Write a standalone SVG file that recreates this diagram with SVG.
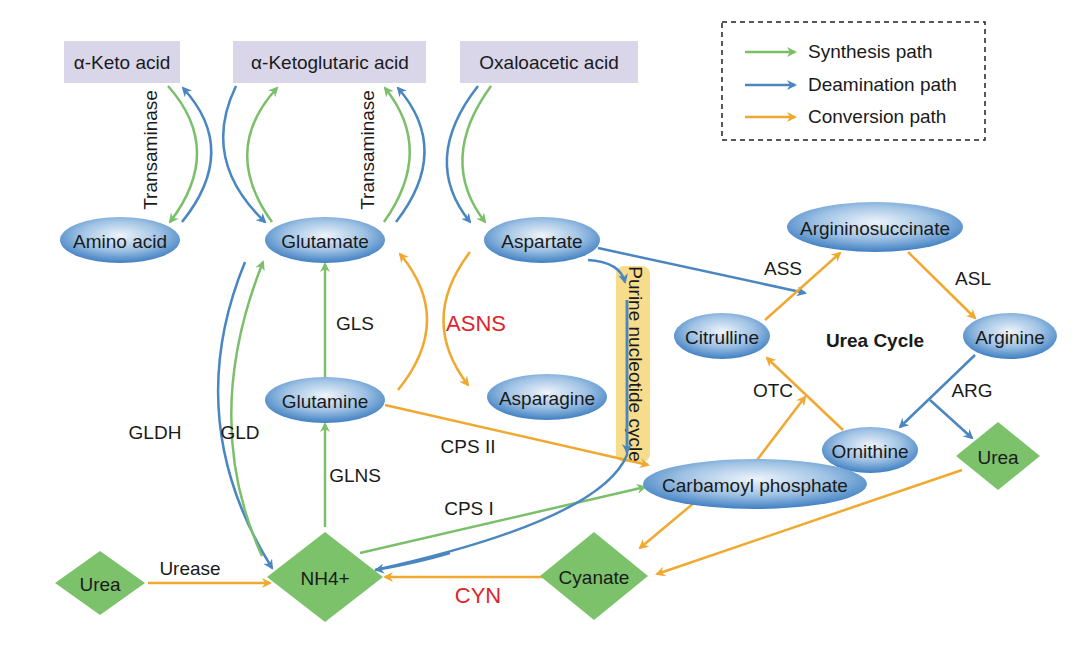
<svg xmlns="http://www.w3.org/2000/svg" width="1084" height="654" viewBox="0 0 1084 654">
<style>
text{font-family:"Liberation Sans",Arial,sans-serif;font-size:19px;fill:#1a1a1a}
.c{text-anchor:middle;dominant-baseline:central}
.g{stroke:#7bbf6a;stroke-width:2.5;fill:none;marker-end:url(#mg)}
.b{stroke:#4a86c0;stroke-width:2.5;fill:none;marker-end:url(#mb)}
.o{stroke:#f0a830;stroke-width:2.5;fill:none;marker-end:url(#mo)}
.bn{stroke:#4a86c0;stroke-width:2.5;fill:none}
.rect{fill:#d9d6ea}
.ell{fill:url(#rg)}
.dia{fill:#7cc26a}
.red{fill:#e0242a;font-size:22px}
</style>
<defs>
<radialGradient id="rg" cx="0.5" cy="0.4" r="0.6">
<stop offset="0" stop-color="#eef4fb"/><stop offset="0.55" stop-color="#9fc2e4"/><stop offset="1" stop-color="#3f7fc2"/>
</radialGradient>
<marker id="mg" markerWidth="10" markerHeight="10" refX="8" refY="5" orient="auto" markerUnits="userSpaceOnUse" viewBox="0 0 10 10"><path d="M0,0L10,5L0,10L3,5z" fill="#7bbf6a"/></marker>
<marker id="mb" markerWidth="10" markerHeight="10" refX="8" refY="5" orient="auto" markerUnits="userSpaceOnUse" viewBox="0 0 10 10"><path d="M0,0L10,5L0,10L3,5z" fill="#4a86c0"/></marker>
<marker id="mo" markerWidth="10" markerHeight="10" refX="8" refY="5" orient="auto" markerUnits="userSpaceOnUse" viewBox="0 0 10 10"><path d="M0,0L10,5L0,10L3,5z" fill="#f0a830"/></marker>
</defs>
<rect width="1084" height="654" fill="#fff"/>
<g id="legend">
<rect x="722" y="22" width="263" height="118" fill="none" stroke="#222" stroke-width="1.5" stroke-dasharray="5,4"/>
<line class="g" x1="745" y1="52" x2="795" y2="52"/><text x="808" y="58">Synthesis path</text>
<line class="b" x1="745" y1="85" x2="795" y2="85"/><text x="808" y="91">Deamination path</text>
<line class="o" x1="745" y1="117" x2="795" y2="117"/><text x="808" y="123">Conversion path</text>
</g>
<g id="purine"><rect x="616" y="266" width="34" height="196" rx="8" fill="#f7dc8c"/><text class="c" transform="translate(635,364) rotate(90)">Purine nucleotide cycle</text></g>
<g id="connectors">
<path class="g" d="M168,86 Q225,150 170,222"/>
<path class="b" d="M182,222 Q240,150 183,88"/>
<path class="b" d="M236,86 Q200,160 265,222"/>
<path class="g" d="M272,222 Q220,150 277,88"/>
<path class="g" d="M384,222 Q435,150 385,88"/>
<path class="b" d="M396,222 Q452,150 398,88"/>
<path class="b" d="M478,86 Q420,160 470,222"/>
<path class="g" d="M491,86 Q437,160 485,222"/>
<path class="b" d="M245,262 Q180,420 272,568"/>
<path class="g" d="M262,556 Q200,420 263,262"/>
<line class="g" x1="325" y1="377" x2="325" y2="264"/>
<line class="g" x1="325" y1="527" x2="325" y2="424"/>
<path class="o" d="M398,390 Q455,320 400,254"/>
<path class="o" d="M470,252 Q418,320 468,385"/>
<line class="o" x1="385" y1="405" x2="648" y2="465"/>
<line class="g" x1="360" y1="553" x2="645" y2="487"/>
<path class="b" d="M588,260 Q620,262 625,282"/>
<line class="b" x1="627" y1="300" x2="627" y2="452"/>
<path class="bn" d="M627,300 L627,455 Q600,520 375,570"/>
<path class="b" d="M450,553 Q420,562 376,570"/>
<line class="b" x1="598" y1="248" x2="805" y2="293"/>
<line class="o" x1="765" y1="320" x2="840" y2="253"/>
<line class="o" x1="908" y1="252" x2="975" y2="318"/>
<line class="b" x1="975" y1="355" x2="900" y2="427"/>
<line class="b" x1="930" y1="400" x2="972" y2="438"/>
<line class="o" x1="843" y1="430" x2="767" y2="358"/>
<line class="o" x1="757" y1="460" x2="805" y2="397"/>
<line class="o" x1="695" y1="502" x2="640" y2="548"/>
<line class="o" x1="962" y1="470" x2="657" y2="574"/>
<line class="o" x1="545" y1="577" x2="385" y2="577"/>
<line class="o" x1="148" y1="583" x2="270" y2="583"/>
</g>
<g id="labels">
<text class="c" transform="translate(150,150) rotate(-90)" font-size="17">Transaminase</text>
<text class="c" transform="translate(367,150) rotate(-90)" font-size="17">Transaminase</text>
<text class="c" x="155" y="432">GLDH</text>
<text class="c" x="240" y="432">GLD</text>
<text class="c" x="355" y="323">GLS</text>
<text class="c" x="355" y="475">GLNS</text>
<text class="c red" x="476" y="323">ASNS</text>
<text class="c" x="468" y="446">CPS II</text>
<text class="c" x="469" y="508">CPS I</text>
<text class="c" x="783" y="268">ASS</text>
<text class="c" x="973" y="278">ASL</text>
<text class="c" x="972" y="390">ARG</text>
<text class="c" x="773" y="390">OTC</text>
<text class="c red" x="478" y="595">CYN</text>
<text class="c" x="190" y="568">Urease</text>
<text class="c" x="875" y="340" font-weight="bold">Urea Cycle</text>
</g>
<g id="n-aketo"><rect class="rect" x="64" y="41" width="116" height="42"/><text class="c" x="122" y="62">α-Keto acid</text></g>
<g id="n-akg"><rect class="rect" x="233" y="41" width="193" height="42"/><text class="c" x="330" y="62">α-Ketoglutaric acid</text></g>
<g id="n-oxa"><rect class="rect" x="460" y="41" width="178" height="42"/><text class="c" x="549" y="62">Oxaloacetic acid</text></g>
<g id="n-amino"><ellipse class="ell" cx="120" cy="240" rx="60" ry="23"/><text class="c" x="120" y="241">Amino acid</text></g>
<g id="n-glutamate"><ellipse class="ell" cx="325" cy="240" rx="60" ry="23"/><text class="c" x="325" y="241">Glutamate</text></g>
<g id="n-aspartate"><ellipse class="ell" cx="542" cy="240" rx="58" ry="23"/><text class="c" x="542" y="241">Aspartate</text></g>
<g id="n-glutamine"><ellipse class="ell" cx="325" cy="400" rx="60" ry="23"/><text class="c" x="325" y="401">Glutamine</text></g>
<g id="n-asparagine"><ellipse class="ell" cx="547" cy="397" rx="60" ry="23"/><text class="c" x="547" y="398">Asparagine</text></g>
<g id="n-citrulline"><ellipse class="ell" cx="722" cy="336" rx="48" ry="23"/><text class="c" x="722" y="337">Citrulline</text></g>
<g id="n-argsucc"><ellipse class="ell" cx="875" cy="227" rx="88" ry="25"/><text class="c" x="875" y="228">Argininosuccinate</text></g>
<g id="n-arginine"><ellipse class="ell" cx="1010" cy="336" rx="47" ry="23"/><text class="c" x="1010" y="337">Arginine</text></g>
<g id="n-ornithine"><ellipse class="ell" cx="870" cy="450" rx="48" ry="23"/><text class="c" x="870" y="451">Ornithine</text></g>
<g id="n-carb"><ellipse class="ell" cx="755" cy="484" rx="112" ry="25"/><text class="c" x="755" y="485">Carbamoyl phosphate</text></g>
<g id="n-urea1"><polygon class="dia" points="100,551 145,583 100,615 55,583"/><text class="c" x="100" y="584">Urea</text></g>
<g id="n-nh4"><polygon class="dia" points="325,532 383,577 325,622 267,577"/><text class="c" x="325" y="578">NH4+</text></g>
<g id="n-cyanate"><polygon class="dia" points="594,532 648,576 594,620 540,576"/><text class="c" x="594" y="577">Cyanate</text></g>
<g id="n-urea2"><polygon class="dia" points="998,422 1040,456 998,490 956,456"/><text class="c" x="998" y="457">Urea</text></g>
</svg>
